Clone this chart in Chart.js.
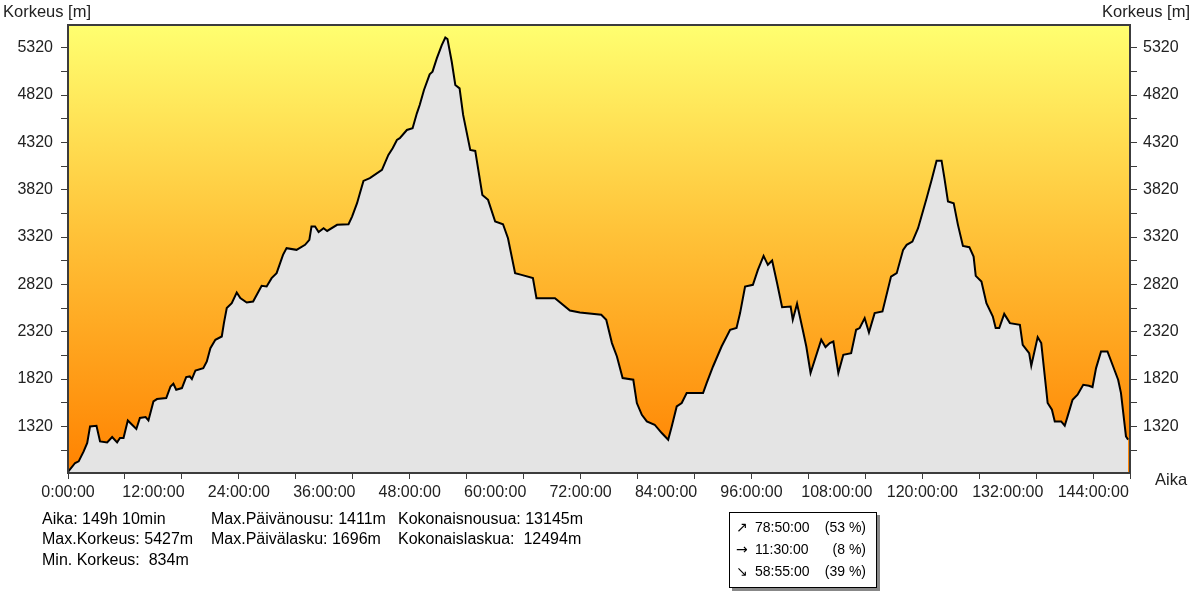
<!DOCTYPE html>
<html>
<head>
<meta charset="utf-8">
<script src="https://cdn.jsdelivr.net/npm/chart.js@4"></script>
<style>
  html, body { margin: 0; padding: 0; background: #fff; }
  #wrap { width: 1202px; height: 597px; position: relative; }
</style>
</head>
<body>
<div id="wrap"><canvas id="profile"></canvas></div>
<script>
// elapsed time [h] and altitude [m]
const hours = [0.0, 1.0, 1.5, 2.2, 2.7, 3.1, 4.0, 4.5, 5.5, 6.2, 6.9, 7.3, 7.8, 8.4, 9.0, 9.6, 10.1, 10.9, 11.3,
  12.0, 12.5, 13.8, 14.4, 14.8, 15.2, 16.0, 16.6, 17.1, 17.4, 17.9, 19.0, 19.5, 20.0, 20.7, 21.6, 21.9, 22.3,
  23.0, 23.7, 24.2, 25.1, 26.0, 27.2, 27.9, 28.6, 29.3, 30.2, 30.7, 32.1, 33.3, 33.9, 34.2, 34.7, 35.2, 35.9,
  36.4, 37.8, 39.4, 39.9, 40.6, 41.0, 41.5, 42.4, 44.1, 45.0, 45.6, 46.2, 46.6, 47.6, 48.4, 49.0, 49.4, 50.0,
  50.8, 51.2, 51.8, 52.5, 53.0, 53.3, 53.9, 54.4, 55.0, 55.5, 56.5, 57.2, 58.2, 59.0, 60.0, 61.1, 61.8, 62.8,
  63.7, 65.3, 65.8, 67.2, 68.4, 70.5, 71.9, 74.9, 75.6, 76.4, 77.1, 77.9, 79.4, 79.9, 80.6, 81.3, 82.4, 83.4,
  84.3, 84.8, 85.5, 86.2, 86.9, 89.2, 89.7, 90.6, 91.8, 93.0, 93.9, 94.4, 95.1, 96.2, 96.9, 97.7, 98.3, 98.9,
  99.6, 100.3, 101.5, 101.8, 102.4, 103.2, 103.7, 104.3, 105.8, 106.4, 107.0, 107.5, 108.2, 108.9, 110.0,
  110.7, 111.2, 111.9, 112.5, 113.3, 114.4, 115.6, 116.4, 117.3, 117.8, 118.6, 119.4, 120.0, 120.6, 121.3,
  122.0, 122.7, 123.1, 123.6, 124.4, 125.0, 125.7, 126.6, 127.2, 127.5, 128.3, 129.0, 129.9, 130.3, 130.8,
  131.5, 132.3, 133.7, 134.1, 135.0, 135.3, 136.2, 136.7, 137.6, 138.2, 138.6, 139.5, 140.0, 140.4, 141.1,
  141.8, 142.6, 143.4, 143.9, 144.4, 145.1, 146.0, 146.8, 147.5, 147.9, 148.6, 148.9];
const altitude = [840, 934, 951, 1056, 1145, 1320, 1327, 1162, 1151, 1208, 1151, 1197, 1197, 1383, 1338, 1293, 1409, 1419, 1383,
  1584, 1609, 1620, 1742, 1771, 1707, 1725, 1841, 1848, 1820, 1911, 1936, 2006, 2147, 2235, 2270, 2411, 2570,
  2622, 2734, 2675, 2629, 2639, 2805, 2798, 2886, 2939, 3132, 3203, 3185, 3238, 3290, 3431, 3431, 3372, 3414,
  3385, 3449, 3456, 3536, 3678, 3783, 3913, 3942, 4029, 4188, 4258, 4346, 4364, 4451, 4469, 4627, 4715, 4874,
  5039, 5067, 5208, 5348, 5427, 5412, 5172, 4926, 4891, 4610, 4240, 4230, 3765, 3713, 3484, 3456, 3308, 2939,
  2921, 2886, 2675, 2675, 2675, 2544, 2523, 2499, 2446, 2200, 2059, 1831, 1813, 1567, 1443, 1373, 1338, 1250,
  1180, 1320, 1531, 1567, 1672, 1672, 1778, 1953, 2164, 2341, 2359, 2517, 2798, 2816, 2974, 3121, 3027, 3072,
  2833, 2580, 2587, 2446, 2615, 2341, 2164, 1884, 2235, 2158, 2200, 2217, 1884, 2077, 2094,
  2341, 2359, 2464, 2312, 2517, 2534, 2903, 2939, 3185, 3238, 3273, 3414, 3572, 3730, 3924,
  4127, 4127, 3942, 3695, 3678, 3449, 3227, 3213, 3114, 2910, 2850, 2622, 2481, 2359, 2359,
  2509, 2411, 2393, 2182, 2094, 1961, 2263, 2200, 1567, 1496, 1373, 1373, 1327, 1426, 1602,
  1655, 1760, 1750, 1736, 1936, 2112, 2112, 1953, 1813, 1672, 1214, 1180];

const totalHours = 149 + 10 / 60;
const altTicks = [1070, 1320, 1570, 1820, 2070, 2320, 2570, 2820, 3070, 3320, 3570, 3820, 4070, 4320, 4570, 4820, 5070, 5320];
const altLabels = [1320, 1820, 2320, 2820, 3320, 3820, 4320, 4820, 5320];
const timeTicks = [0, 8, 12, 16, 24, 32, 36, 40, 48, 56, 60, 64, 72, 80, 84, 88, 96, 104, 108, 112, 120, 128, 132, 136, 144];
const timeLabels = [0, 12, 24, 36, 48, 60, 72, 84, 96, 108, 120, 132, 144];

const statsLeft = ["Aika: 149h 10min", "Max.Korkeus: 5427m", "Min. Korkeus:  834m"];
const statsMid = ["Max.Päivänousu: 1411m", "Max.Päivälasku: 1696m"];
const statsRight = ["Kokonaisnousua: 13145m", "Kokonaislaskua:  12494m"];
const splitArrows = ["\u2197", "\u2192", "\u2198"];
const splitTimes = ["78:50:00", "11:30:00", "58:55:00"];
const splitPct = ["(53 %)", "(8 %)", "(39 %)"];

const FAMILY = '"Liberation Sans", Arial, sans-serif';

function fmtTime(h) {
  return h + ":00:00";
}

const decor = {
  id: 'decor',
  beforeDraw(chart) {
    const c = chart.ctx, a = chart.chartArea;
    c.save();
    c.fillStyle = '#fff';
    c.fillRect(0, 0, chart.width, chart.height);
    const g = c.createLinearGradient(0, a.top, 0, a.bottom);
    g.addColorStop(0, '#ffff70');
    g.addColorStop(0.45, '#ffc43a');
    g.addColorStop(1, '#ff8200');
    c.fillStyle = g;
    c.fillRect(a.left, a.top, a.right - a.left, a.bottom - a.top);
    c.restore();
  },
  afterDraw(chart) {
    const c = chart.ctx, a = chart.chartArea;
    c.save();
    c.strokeStyle = '#3c3c3c';
    c.lineWidth = 2;
    c.strokeRect(a.left, a.top, a.right - a.left, a.bottom - a.top);

    c.fillStyle = '#222';
    c.font = '16.5px ' + FAMILY;
    c.textBaseline = 'middle';
    c.textAlign = 'left';
    c.fillText('Korkeus [m]', 3, 12);
    c.fillText('Aika', 1155, 480);
    c.textAlign = 'right';
    c.fillText('Korkeus [m]', 1190, 12);

    // summary under the axis
    const rowY = [520, 540, 561];
    c.font = '16px ' + FAMILY;
    c.fillStyle = '#000';
    c.textAlign = 'left';
    statsLeft.forEach((s, i) => c.fillText(s, 42, rowY[i]));
    statsMid.forEach((s, i) => c.fillText(s, 211, rowY[i]));
    statsRight.forEach((s, i) => c.fillText(s, 398, rowY[i]));

    // up / flat / down box
    c.fillStyle = '#888';
    c.fillRect(732, 515, 148, 76);
    c.fillStyle = '#fff';
    c.fillRect(729, 512, 148, 76);
    c.strokeStyle = '#000';
    c.lineWidth = 1;
    c.strokeRect(729.5, 512.5, 147, 75);
    c.fillStyle = '#000';
    const boxY = [528, 550, 572];
    splitTimes.forEach((t, i) => {
      c.textAlign = 'left';
      c.font = '14px "DejaVu Sans", sans-serif';
      c.fillText(splitArrows[i], 736, boxY[i]);
      c.font = '14px ' + FAMILY;
      c.fillText(t, 755, boxY[i]);
      c.textAlign = 'right';
      c.fillText(splitPct[i], 866, boxY[i]);
    });
    c.restore();
  }
};

const tickFont = { family: FAMILY, size: 16 };

const ctx = document.getElementById('profile').getContext('2d');
const profileChart = new Chart(ctx, {
  type: 'line',
  data: {
    datasets: [{
      data: hours.map((h, i) => ({ x: h, y: altitude[i] })),
      borderColor: '#000',
      borderWidth: 2,
      backgroundColor: '#e4e4e4',
      fill: 'start',
      pointRadius: 0,
      tension: 0
    }]
  },
  options: {
    responsive: true,
    maintainAspectRatio: false,
    animation: false,
    layout: { padding: { top: 25 } },
    plugins: { legend: { display: false }, tooltip: { enabled: false } },
    scales: {
      x: {
        type: 'linear',
        min: 0,
        max: totalHours,
        afterBuildTicks: s => { s.ticks = timeTicks.concat([totalHours]).map(v => ({ value: v })); },
        afterFit: s => { s.height = 124; },
        border: { display: false },
        grid: {
          drawOnChartArea: false,
          tickLength: 6,
          tickWidth: 1,
          tickColor: c => (c.tick && (c.tick.value % 8 === 0 || c.tick.value === totalHours)) ? '#3c3c3c' : 'rgba(0,0,0,0)'
        },
        ticks: {
          autoSkip: false,
          maxRotation: 0,
          padding: 4,
          color: '#222',
          font: tickFont,
          callback: v => timeLabels.includes(v) ? fmtTime(v) : ''
        }
      },
      y: {
        position: 'left',
        min: 828,
        max: 5560,
        afterBuildTicks: s => { s.ticks = altTicks.map(v => ({ value: v })); },
        afterFit: s => { s.width = 68; },
        border: { display: false },
        grid: { drawOnChartArea: false, tickLength: 7, tickColor: '#3c3c3c' },
        ticks: {
          padding: 8,
          color: '#222',
          font: tickFont,
          callback: v => altLabels.includes(v) ? String(v) : ''
        }
      },
      y2: {
        position: 'right',
        min: 828,
        max: 5560,
        afterBuildTicks: s => { s.ticks = altTicks.map(v => ({ value: v })); },
        afterFit: s => { s.width = 72; },
        border: { display: false },
        grid: { drawOnChartArea: false, tickLength: 7, tickColor: '#3c3c3c' },
        ticks: {
          padding: 6,
          color: '#222',
          font: tickFont,
          callback: v => altLabels.includes(v) ? String(v) : ''
        }
      }
    }
  },
  plugins: [decor]
});
</script>
</body>
</html>
